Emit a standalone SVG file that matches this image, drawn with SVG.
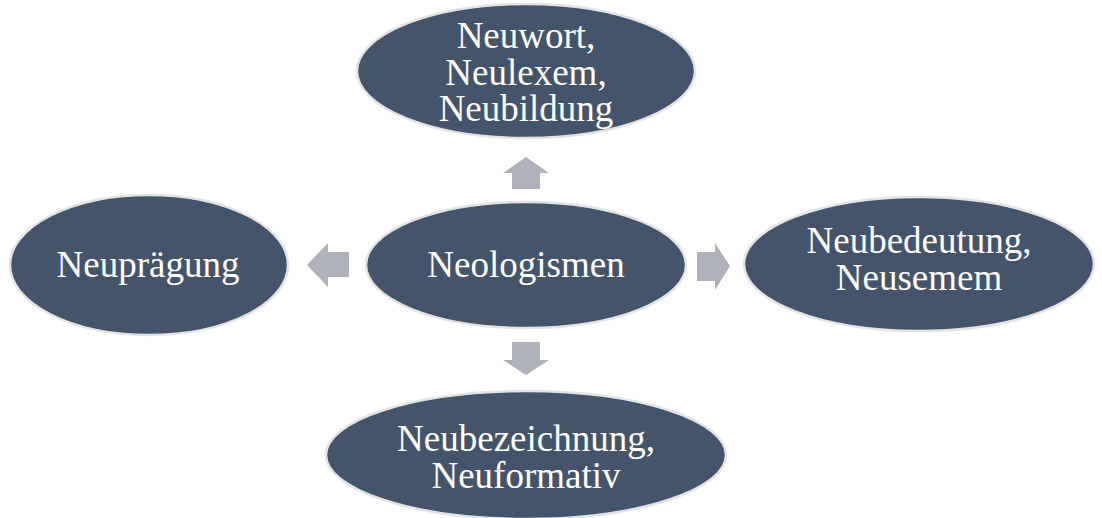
<svg xmlns="http://www.w3.org/2000/svg" width="1102" height="518" viewBox="0 0 1102 518">
<style>
.node{fill:#44546A;stroke:#E3E3E3;stroke-width:2.5}
.lbl{font-family:"Liberation Serif","Times New Roman",serif;font-size:37px;fill:#FFFFFF;text-anchor:middle}
.arr{fill:#AFB2BA}
</style>
<rect width="1102" height="518" fill="#FFFFFF"/>
<g id="connectors">
<polygon class="arr" points="526,157 549,173 540,173 540,189 512,189 512,173 503,173"/>
<polygon class="arr" points="307,265 328,243 328,252 349,252 349,277 328,277 328,287"/>
<polygon class="arr" points="730,266 715,243 715,252 697,252 697,281 715,281 715,290"/>
<polygon class="arr" points="526,375 549,360 540,360 540,342 512,342 512,360 503,360"/>
</g>
<g id="node-top">
<ellipse class="node" cx="526" cy="71" rx="169" ry="67"/>
<text class="lbl" x="526" y="48">Neuwort,</text>
<text class="lbl" x="526" y="85">Neulexem,</text>
<text class="lbl" x="526" y="121">Neubildung</text>
</g>
<g id="node-center">
<ellipse class="node" cx="526" cy="265" rx="160" ry="63"/>
<text class="lbl" x="526" y="277">Neologismen</text>
</g>
<g id="node-left">
<ellipse class="node" cx="149" cy="265" rx="139" ry="70"/>
<text class="lbl" x="148" y="277">Neuprägung</text>
</g>
<g id="node-right">
<ellipse class="node" cx="919" cy="264" rx="175" ry="67"/>
<text class="lbl" x="919" y="253">Neubedeutung,</text>
<text class="lbl" x="919" y="290">Neusemem</text>
</g>
<g id="node-bottom">
<ellipse class="node" cx="526" cy="455" rx="200" ry="64"/>
<text class="lbl" x="526" y="451">Neubezeichnung,</text>
<text class="lbl" x="526" y="488">Neuformativ</text>
</g>
</svg>
